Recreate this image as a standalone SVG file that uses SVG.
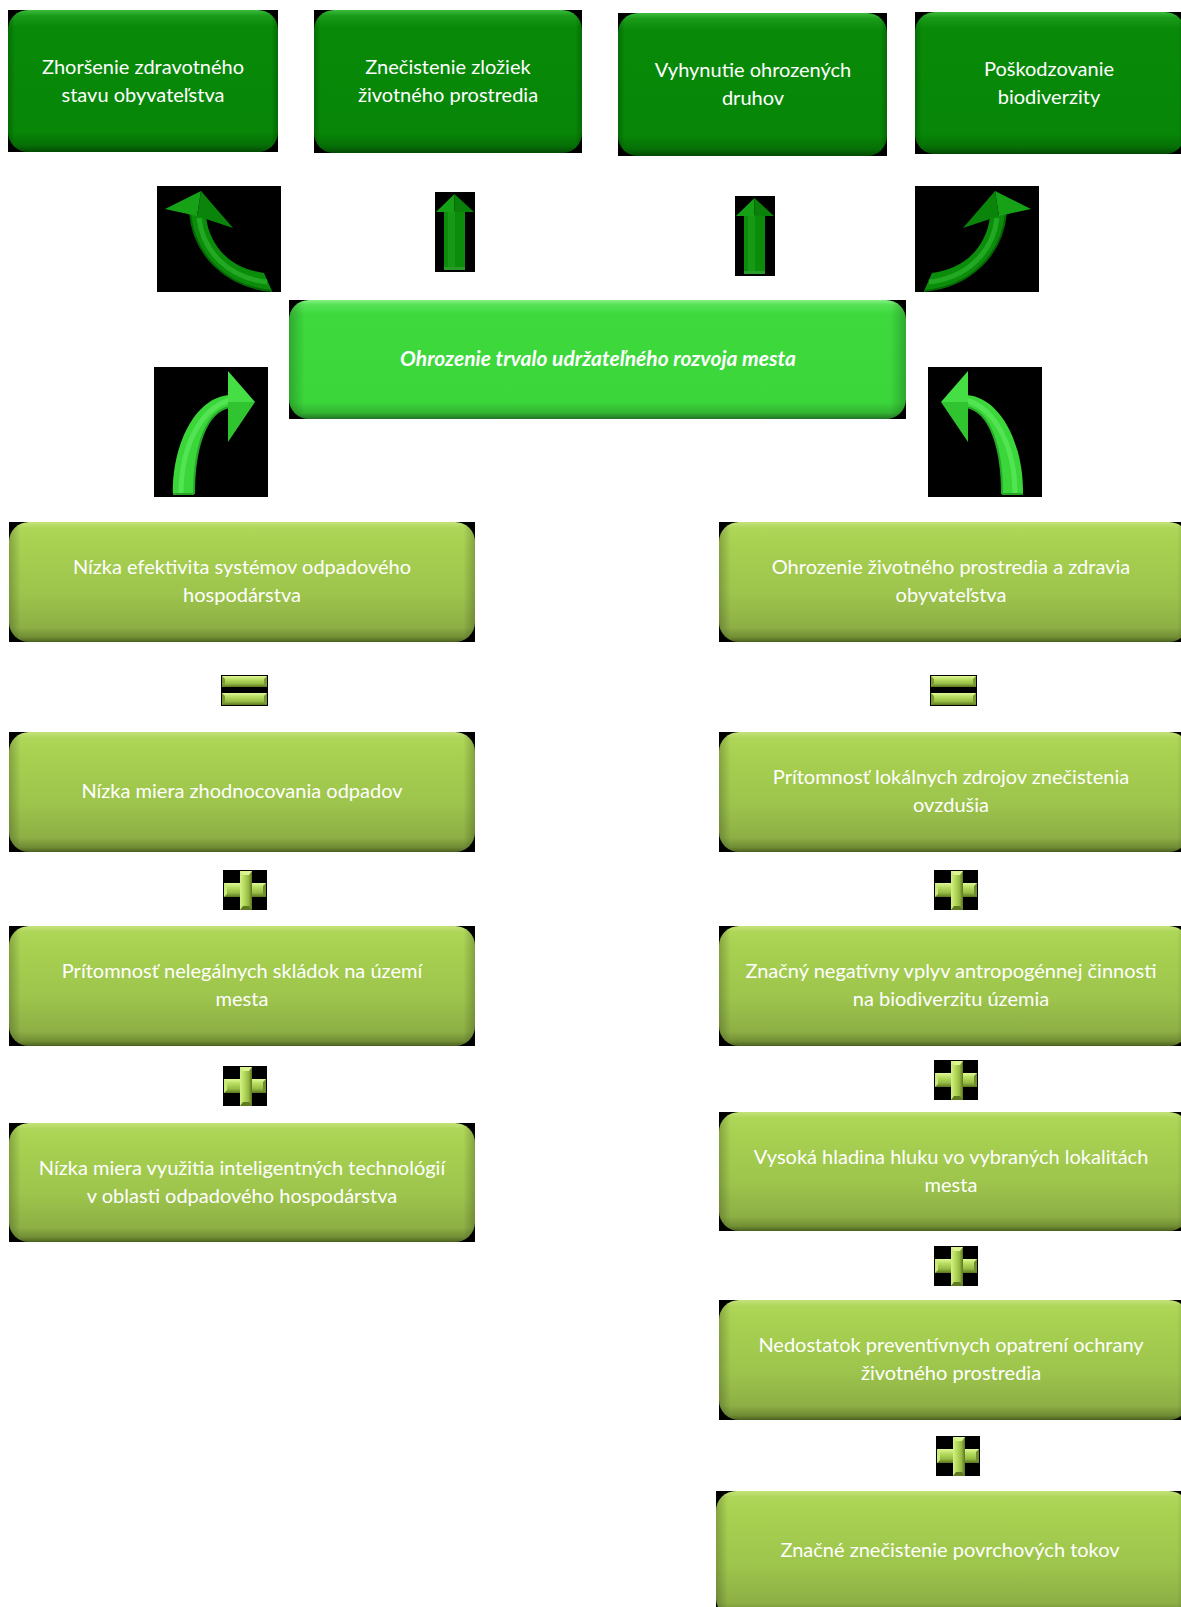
<svg xmlns="http://www.w3.org/2000/svg" width="1181" height="1607" viewBox="0 0 1181 1607">
<style>
text{font-family:Lato,"Open Sans","Liberation Sans",sans-serif;font-size:20px;fill:#ffffff;text-anchor:middle}
text.b{font-weight:bold;font-style:italic;font-size:21px}
.bg{fill:#000}
.dk{fill:url(#gDark)}
.br{fill:url(#gBright)}
.ol{fill:url(#gOlive)}
.sd{fill:url(#gSide)}
</style>
<defs>
<linearGradient id="gDark" x1="0" y1="0" x2="0" y2="1">
<stop offset="0" stop-color="#3dbb3d"/><stop offset="0.04" stop-color="#1a9c1a"/><stop offset="0.12" stop-color="#088a08"/><stop offset="0.86" stop-color="#078607"/><stop offset="0.95" stop-color="#067006"/><stop offset="1" stop-color="#034a03"/>
</linearGradient>
<linearGradient id="gBright" x1="0" y1="0" x2="0" y2="1">
<stop offset="0" stop-color="#86f286"/><stop offset="0.04" stop-color="#55e255"/><stop offset="0.12" stop-color="#3dd93d"/><stop offset="0.86" stop-color="#3ad63a"/><stop offset="0.95" stop-color="#31b331"/><stop offset="1" stop-color="#237223"/>
</linearGradient>
<linearGradient id="gOlive" x1="0" y1="0" x2="0" y2="1">
<stop offset="0" stop-color="#c4e27a"/><stop offset="0.05" stop-color="#aed658"/><stop offset="0.18" stop-color="#a8d151"/><stop offset="0.6" stop-color="#9dc44c"/><stop offset="0.88" stop-color="#8daf45"/><stop offset="0.96" stop-color="#718d34"/><stop offset="1" stop-color="#4a6020"/>
</linearGradient>
<linearGradient id="gSide" x1="0" y1="0" x2="1" y2="0">
<stop offset="0" stop-color="#000" stop-opacity="0.22"/><stop offset="0.025" stop-color="#000" stop-opacity="0"/><stop offset="0.975" stop-color="#000" stop-opacity="0"/><stop offset="1" stop-color="#000" stop-opacity="0.22"/>
</linearGradient>
<linearGradient id="gBar" x1="0" y1="0" x2="0" y2="1">
<stop offset="0" stop-color="#e2f79a"/><stop offset="0.3" stop-color="#b9df62"/><stop offset="0.7" stop-color="#97bb44"/><stop offset="1" stop-color="#5b7620"/>
</linearGradient>
<linearGradient id="gBarV" x1="0" y1="0" x2="1" y2="0">
<stop offset="0" stop-color="#d6f088"/><stop offset="0.35" stop-color="#b5da5c"/><stop offset="0.7" stop-color="#97bb44"/><stop offset="1" stop-color="#5b7620"/>
</linearGradient>
<g id="eq">
<rect class="bg" width="47" height="31"/>
<rect x="1" y="1" width="45" height="11" fill="url(#gBar)"/>
<rect x="1" y="18" width="45" height="12" fill="url(#gBar)"/>
<path d="M1 1 L4 4 L4 9 L1 12 Z M46 1 L43 4 L43 9 L46 12 Z" fill="#7a9a34"/>
<path d="M1 18 L4 21 L4 27 L1 30 Z M46 18 L43 21 L43 27 L46 30 Z" fill="#7a9a34"/>
</g>
<g id="plus">
<rect class="bg" width="44" height="40"/>
<rect x="1" y="13" width="42" height="14" fill="url(#gBar)"/>
<rect x="17" y="1" width="12" height="39" fill="url(#gBarV)"/>
<path d="M17 1 L29 1 L26 5 L20 5 Z" fill="#dcf392"/>
<path d="M17 40 L29 40 L26 36 L20 36 Z" fill="#5e7a22"/>
<path d="M1 13 L4 16 L4 24 L1 27 Z" fill="#c8e878"/>
<path d="M43 13 L40 16 L40 24 L43 27 Z" fill="#6f8e2c"/>
</g>
<g id="arrTop">
<rect class="bg" width="124" height="106"/>
<path d="M33 27 C37 70 70 101 115 105 L107 87 C75 83 53 62 49 31 Z" fill="#0b8c0b"/>
<path d="M42 32 C46 66 72 92 110 96" fill="none" stroke="#22a822" stroke-width="5"/>
<path d="M33 27 C37 70 70 101 115 105" fill="none" stroke="#066606" stroke-width="2"/>
<polygon points="44,5 8,23 40,30" fill="#17a117"/>
<polygon points="44,5 40,30 76,42" fill="#0a840a"/>
</g>
<g id="arrLow">
<rect class="bg" width="114" height="130"/>
<path d="M19 127 C18 80 40 30 76 28 L76 40 C52 44 40 80 40 127 Z" fill="#3ad63a"/>
<path d="M27 127 C27 82 45 42 76 33" fill="none" stroke="#52e452" stroke-width="5"/>
<path d="M40 127 C40 80 52 44 76 40" fill="none" stroke="#28a828" stroke-width="2"/>
<path d="M19 127 L40 127" stroke="#2aa02a" stroke-width="2"/>
<polygon points="74,4 101,35 74,35" fill="#45df45"/>
<polygon points="74,35 101,35 74,75" fill="#30c430"/>
</g>
<g id="arrUp">
<rect class="bg" width="40" height="80"/>
<rect x="9" y="19" width="21" height="59" fill="#0b8c0b"/>
<rect x="13" y="19" width="7" height="59" fill="#169a16"/>
<rect x="9" y="75" width="21" height="3" fill="#2a9a2a"/>
<polygon points="19.5,2 1,20 19.5,20" fill="#16a016"/>
<polygon points="19.5,2 39,20 19.5,20" fill="#0a820a"/>
</g>
</defs>

<g id="node-zhorsenie">
<rect class="bg" x="8" y="10" width="270" height="142"/>
<rect class="dk" x="8" y="10" width="270" height="142" rx="20"/>
<rect class="sd" x="8" y="10" width="270" height="142" rx="20"/>
<text x="143" y="74">Zhoršenie zdravotného</text>
<text x="143" y="102">stavu obyvateľstva</text>
</g>
<g id="node-znecistenie">
<rect class="bg" x="314" y="10" width="268" height="143"/>
<rect class="dk" x="314" y="10" width="268" height="143" rx="20"/>
<rect class="sd" x="314" y="10" width="268" height="143" rx="20"/>
<text x="448" y="74">Znečistenie zložiek</text>
<text x="448" y="102">životného prostredia</text>
</g>
<g id="node-vyhynutie">
<rect class="bg" x="618" y="13" width="269" height="143"/>
<rect class="dk" x="618" y="13" width="269" height="143" rx="20"/>
<rect class="sd" x="618" y="13" width="269" height="143" rx="20"/>
<text x="753" y="77">Vyhynutie ohrozených</text>
<text x="753" y="105">druhov</text>
</g>
<g id="node-poskodzovanie">
<rect class="bg" x="915" y="12" width="266" height="142"/>
<rect class="dk" x="915" y="12" width="270" height="142" rx="20"/>
<rect class="sd" x="915" y="12" width="270" height="142" rx="20"/>
<text x="1049" y="76">Poškodzovanie</text>
<text x="1049" y="104">biodiverzity</text>
</g>
<g id="node-ohrozenie-rozvoja">
<rect class="bg" x="289" y="300" width="617" height="119"/>
<rect class="br" x="289" y="300" width="617" height="119" rx="20"/>
<rect class="sd" x="289" y="300" width="617" height="119" rx="20"/>
<text class="b" x="598" y="366">Ohrozenie trvalo udržateľného rozvoja mesta</text>
</g>

<g id="node-l1">
<rect class="bg" x="9" y="522" width="466" height="120"/>
<rect class="ol" x="9" y="522" width="466" height="120" rx="20"/>
<rect class="sd" x="9" y="522" width="466" height="120" rx="20"/>
<text x="242" y="574">Nízka efektivita systémov odpadového</text>
<text x="242" y="602">hospodárstva</text>
</g>
<g id="node-l2">
<rect class="bg" x="9" y="732" width="466" height="120"/>
<rect class="ol" x="9" y="732" width="466" height="120" rx="20"/>
<rect class="sd" x="9" y="732" width="466" height="120" rx="20"/>
<text x="242" y="798">Nízka miera zhodnocovania odpadov</text>
</g>
<g id="node-l3">
<rect class="bg" x="9" y="926" width="466" height="120"/>
<rect class="ol" x="9" y="926" width="466" height="120" rx="20"/>
<rect class="sd" x="9" y="926" width="466" height="120" rx="20"/>
<text x="242" y="978">Prítomnosť nelegálnych skládok na území</text>
<text x="242" y="1006">mesta</text>
</g>
<g id="node-l4">
<rect class="bg" x="9" y="1123" width="466" height="119"/>
<rect class="ol" x="9" y="1123" width="466" height="119" rx="20"/>
<rect class="sd" x="9" y="1123" width="466" height="119" rx="20"/>
<text x="242" y="1175">Nízka miera využitia inteligentných technológií</text>
<text x="242" y="1203">v oblasti odpadového hospodárstva</text>
</g>

<g id="node-r1">
<rect class="bg" x="719" y="522" width="462" height="120"/>
<rect class="ol" x="719" y="522" width="470" height="120" rx="20"/>
<rect class="sd" x="719" y="522" width="470" height="120" rx="20"/>
<text x="951" y="574">Ohrozenie životného prostredia a zdravia</text>
<text x="951" y="602">obyvateľstva</text>
</g>
<g id="node-r2">
<rect class="bg" x="719" y="732" width="462" height="120"/>
<rect class="ol" x="719" y="732" width="470" height="120" rx="20"/>
<rect class="sd" x="719" y="732" width="470" height="120" rx="20"/>
<text x="951" y="784">Prítomnosť lokálnych zdrojov znečistenia</text>
<text x="951" y="812">ovzdušia</text>
</g>
<g id="node-r3">
<rect class="bg" x="719" y="926" width="462" height="120"/>
<rect class="ol" x="719" y="926" width="470" height="120" rx="20"/>
<rect class="sd" x="719" y="926" width="470" height="120" rx="20"/>
<text x="951" y="978">Značný negatívny vplyv antropogénnej činnosti</text>
<text x="951" y="1006">na biodiverzitu územia</text>
</g>
<g id="node-r4">
<rect class="bg" x="719" y="1112" width="462" height="119"/>
<rect class="ol" x="719" y="1112" width="470" height="119" rx="20"/>
<rect class="sd" x="719" y="1112" width="470" height="119" rx="20"/>
<text x="951" y="1164">Vysoká hladina hluku vo vybraných lokalitách</text>
<text x="951" y="1192">mesta</text>
</g>
<g id="node-r5">
<rect class="bg" x="719" y="1300" width="462" height="120"/>
<rect class="ol" x="719" y="1300" width="470" height="120" rx="20"/>
<rect class="sd" x="719" y="1300" width="470" height="120" rx="20"/>
<text x="951" y="1352">Nedostatok preventívnych opatrení ochrany</text>
<text x="951" y="1380">životného prostredia</text>
</g>
<g id="node-r6">
<rect class="bg" x="716" y="1491" width="465" height="116"/>
<rect class="ol" x="716" y="1491" width="473" height="127" rx="20"/>
<rect class="sd" x="716" y="1491" width="473" height="127" rx="20"/>
<text x="950" y="1557">Značné znečistenie povrchových tokov</text>
</g>

<g id="connectors">
<use href="#arrTop" x="157" y="186"/>
<use href="#arrTop" transform="translate(1039 186) scale(-1 1)"/>
<use href="#arrUp" x="435" y="192"/>
<use href="#arrUp" x="735" y="196"/>
<use href="#arrLow" x="154" y="367"/>
<use href="#arrLow" transform="translate(1042 367) scale(-1 1)"/>
<use href="#eq" x="221" y="675"/>
<use href="#eq" x="930" y="675"/>
<use href="#plus" x="223" y="870"/>
<use href="#plus" x="223" y="1066"/>
<use href="#plus" x="934" y="870"/>
<use href="#plus" x="934" y="1060"/>
<use href="#plus" x="934" y="1246"/>
<use href="#plus" x="936" y="1436"/>
</g>
</svg>
